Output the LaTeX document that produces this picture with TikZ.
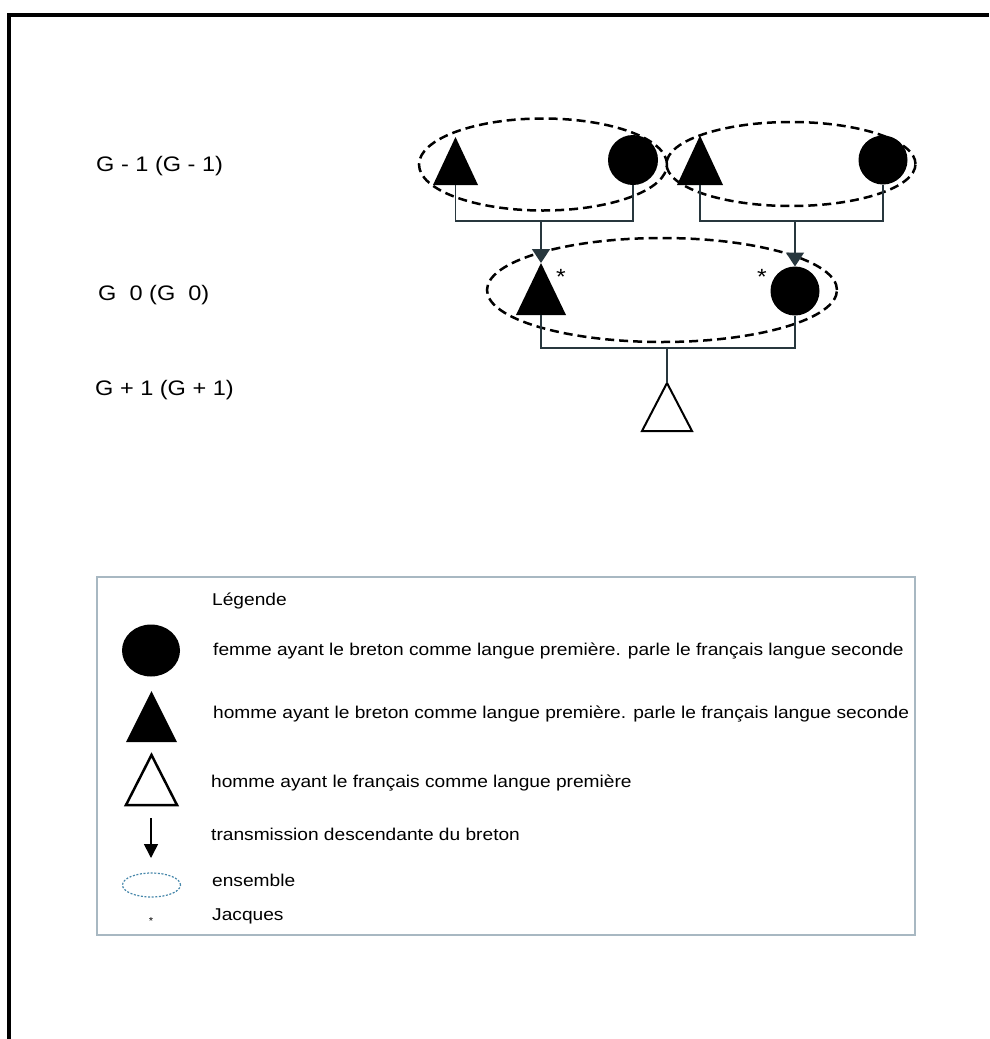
\documentclass[tikz,border=0pt]{standalone}
\usepackage{fontspec}
\setmainfont{Liberation Sans}[FakeStretch=1.12]
\usetikzlibrary{shapes.geometric,arrows.meta}
\definecolor{conncol}{RGB}{40,55,62}
\definecolor{legframe}{RGB}{168,184,194}
\definecolor{ensblue}{RGB}{70,135,170}
\begin{document}
\begin{tikzpicture}[x=1pt,y=-1pt,
  trinode/.style 2 args={inner sep=0pt, outer sep=0pt, minimum width=#1pt, minimum height=#2pt},
  person/.style={circle, fill=black, inner sep=0pt, outer sep=0pt, minimum size=#1pt},
  ens/.style={ellipse, draw=black, dash pattern=on 9pt off 5pt, line width=2.5pt, inner sep=0pt},
  conn/.style={draw=conncol, line width=1.6pt},
  arr/.style={conn, -{Triangle[width=18pt,length=14pt]}},
  gen/.style={font=\fontsize{21}{25}\selectfont, anchor=base west, inner sep=0pt},
  leg/.style={font=\fontsize{17.1}{20}\selectfont, anchor=base west, inner sep=0pt},
  star/.style={anchor=base, inner sep=0pt}
]
\useasboundingbox (0,0) rectangle (989,1039);
\fill[white] (0,0) rectangle (989,1039);
% frame
\draw[line width=3.5pt] (9,1039) -- (9,15) -- (989,15);

% generation labels
\node[gen] (gm1) at (96,171.5) {G - 1 (G - 1)};
\node[gen] (g0)  at (98,300) {G\ \ 0 (G\ \ 0)};
\node[gen] (gp1) at (95,395) {G + 1 (G + 1)};

% ensembles
\node[ens, minimum width=248pt, minimum height=92pt] (e1) at (543,164.5) {};
\node[ens, minimum width=249pt, minimum height=84pt] (e2) at (791,164) {};
\node[ens, minimum width=350pt, minimum height=104pt] (e3) at (662,290) {};

% G-1 persons
\node[trinode={45}{48}] (t1) at (455.5,161) {};
\fill (t1.north) -- (t1.south east) -- (t1.south west) -- cycle;
\node[person=50] (c1) at (633,160) {};
\node[trinode={46}{49.5}] (t2) at (700,160.25) {};
\fill (t2.north) -- (t2.south east) -- (t2.south west) -- cycle;
\node[person=49] (c2) at (883,160) {};

% G0 persons
\node[trinode={50}{52}] (g0t) at (541,289) {};
\fill (g0t.north) -- (g0t.south east) -- (g0t.south west) -- cycle;
\node[person=49] (g0c) at (795,291) {};
\node[star, font=\fontsize{22}{24}\selectfont] (s1) at (561,284.5) {*};
\node[star, font=\fontsize{22}{24}\selectfont] (s2) at (762,284.5) {*};

% G+1
\node[trinode={50}{48}] (child) at (667,407) {};
\draw[line width=2pt, line join=miter] (child.north) -- (child.south east) -- (child.south west) -- cycle;

% connectors
\coordinate (j1) at (541,221);
\coordinate (j2) at (795,221);
\coordinate (j3) at (667,348);
\draw[conn] (t1.south) |- (j1) -| (c1.south);
\draw[conn] (t2.south) |- (j2) -| (c2.south);
\draw[arr] (j1) -- (g0t.north);
\draw[arr] (j2) -- (g0c.north);
\draw[conn] (g0t.south) |- (j3) -| (g0c.south);
\draw[conn] (j3) -- (child.north);

% legend
\node[draw=legframe, line width=2.5pt, minimum width=818pt, minimum height=358pt, inner sep=0pt] (legbox) at (506,756) {};
\node[leg] (lgt) at (212,605) {Légende};
\node[ellipse, fill=black, minimum width=58pt, minimum height=52pt, inner sep=0pt] (lc) at (151,650.5) {};
\node[leg] (lct) at (213,655) {femme ayant le breton comme langue première. parle le français langue seconde};
\node[trinode={51}{51}] (lt1) at (151.5,716.5) {};
\fill (lt1.north) -- (lt1.south east) -- (lt1.south west) -- cycle;
\node[leg] (lt1t) at (213,718) {homme ayant le breton comme langue première. parle le français langue seconde};
\node[trinode={51}{50}] (lt2) at (151.5,780) {};
\draw[line width=2.5pt, line join=miter] (lt2.north) -- (lt2.south east) -- (lt2.south west) -- cycle;
\node[leg] (lt2t) at (211,787) {homme ayant le français comme langue première};
\coordinate (la1) at (151,818);
\coordinate (la2) at (151,858);
\draw[conn, draw=black, -{Triangle[width=14pt,length=14pt]}] (la1) -- (la2);
\node[leg] (lat) at (211,840) {transmission descendante du breton};
\node[ellipse, draw=ensblue, dash pattern=on 2pt off 1.6pt, line width=1.2pt, minimum width=58pt, minimum height=24pt, inner sep=0pt] (le) at (151.5,885) {};
\node[leg] (let) at (212,886) {ensemble};
\node[star, font=\fontsize{10}{12}\selectfont] (ls) at (151,924) {*};
\node[leg] (lst) at (212,920) {Jacques};
\end{tikzpicture}
\end{document}
